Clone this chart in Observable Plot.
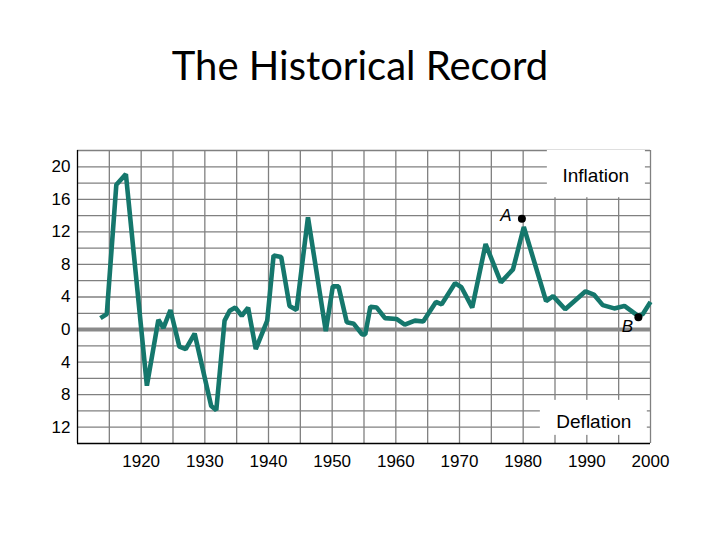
<!DOCTYPE html>
<html>
<head>
<meta charset="utf-8">
<script src="https://cdn.jsdelivr.net/npm/d3@7"></script>
<script src="https://cdn.jsdelivr.net/npm/@observablehq/plot@0.6"></script>
<style>
  html, body { margin: 0; padding: 0; background: #ffffff; }
  #wrap { width: 720px; height: 540px; overflow: hidden; background: #fff; }
  #title { height: 140px; box-sizing: border-box; padding-top: 41px; margin: 0;
           font-family: Lato, "Open Sans", sans-serif; font-size: 40px; line-height: 1.2;
           font-weight: normal; text-align: center; color: #000; }
  #chart svg { display: block; }
</style>
</head>
<body>
<div id="wrap">
  <div id="title">The Historical Record</div>
  <div id="chart"></div>
</div>
<script>
// Annual inflation rate (%)
const years = [1913.6, 1914.6, 1916.1, 1917.6, 1920.9, 1922.7, 1923.5, 1924.6, 1926.0, 1927.0,
  1928.4, 1931.0, 1931.8, 1933.1, 1933.9, 1934.8, 1935.8, 1936.8, 1938.0, 1939.8,
  1940.8, 1942.0, 1943.3, 1944.4, 1946.2, 1949.0, 1950.1, 1951.0, 1952.3, 1953.4,
  1954.7, 1955.2, 1956.0, 1957.0, 1958.3, 1960.1, 1961.4, 1963.0, 1964.3, 1966.3,
  1967.2, 1969.3, 1970.3, 1972.0, 1974.1, 1976.5, 1978.4, 1980.1, 1983.6, 1984.7,
  1986.6, 1989.8, 1991.1, 1992.5, 1994.3, 1995.9, 1998.0, 1998.8, 2000.0];
const rates = [1.4, 1.9, 17.8, 19.1, -6.9, 1.2, 0.2, 2.4, -2.1, -2.4,
  -0.5, -9.4, -9.9, 1.1, 2.3, 2.7, 1.7, 2.7, -2.4, 1.1,
  9.1, 8.9, 2.9, 2.4, 13.8, -0.2, 5.3, 5.3, 0.9, 0.7,
  -0.6, -0.6, 2.8, 2.7, 1.4, 1.3, 0.6, 1.1, 1.0, 3.4,
  3.1, 5.7, 5.2, 2.7, 10.5, 5.8, 7.4, 12.6, 3.5, 4.1,
  2.5, 4.7, 4.3, 3.0, 2.6, 2.9, 1.7, 1.9, 3.4];

// Marked points A and B
const pointLabels = ["A", "B"];
const pointYears = [1979.8, 1998.1];
const pointRates = [13.6, 1.5];
const pointDx = [-16, -11];
const pointDy = [-3, 9];

// Tick labels
const xTicks = [1920, 1930, 1940, 1950, 1960, 1970, 1980, 1990, 2000];
const yTicks = [20, 16, 12, 8, 4, 0, -4, -8, -12];
const gridYears = d3.range(1915, 2001, 5);
const gridRates = [-12, -10, -8, -6, -4, -2, 2, 4, 6, 8, 10, 12, 14, 16, 18, 20, 22];

// Region labels (text, box extent in data units, text anchor)
const noteLabels = ["Inflation", "Deflation"];
const noteX1 = [1983.8, 1982.7];
const noteX2 = [1999.2, 1999.5];
const noteY1 = [16.2, -13.0];
const noteY2 = [22, -8.7];
const noteTx = [1991.4, 1991.1];
const noteTy = [18.9, -11.4];

const series = years.map((y, i) => ({year: y, rate: rates[i]}));
const points = pointLabels.map((l, i) => ({label: l, year: pointYears[i], rate: pointRates[i]}));
const notes = noteLabels.map((l, i) => ({label: l, x1: noteX1[i], x2: noteX2[i], y1: noteY1[i], y2: noteY2[i], tx: noteTx[i], ty: noteTy[i]}));

const teal = "#15776c";
const gridColor = "#808080";
const font = "'Liberation Sans', Arial, sans-serif";

const chart = Plot.plot({
  width: 720,
  height: 400,
  marginLeft: 77,
  marginRight: 70,
  marginTop: 10,
  marginBottom: 97,
  x: {domain: [1910, 2000]},
  y: {domain: [-14, 22]},
  style: {fontFamily: font, fontSize: "17px", color: "#000", background: "#fff"},
  marks: [
    Plot.ruleX(gridYears, {y1: -14, y2: 22, stroke: gridColor, strokeWidth: 1.3}),
    Plot.ruleY(gridRates, {x1: 1910, x2: 2000, stroke: gridColor, strokeWidth: 1.3}),
    Plot.rect(notes, {x1: "x1", x2: "x2", y1: "y1", y2: "y2", fill: "#fff"}),
    Plot.text(notes, {x: "tx", y: "ty", text: "label", fontSize: 19, fill: "#000"}),
    Plot.ruleY([0], {x1: 1910, x2: 2000, stroke: "#8a8a8a", strokeWidth: 4}),
    Plot.ruleX([1910], {y1: -14, y2: 22, stroke: "#000", strokeWidth: 1.3}),
    Plot.ruleY([-14], {x1: 1910, x2: 2000, stroke: "#000", strokeWidth: 1.5}),
    Plot.line(series, {x: "year", y: "rate", stroke: teal, strokeWidth: 4.6, strokeLinejoin: "miter", strokeLinecap: "butt"}),
    Plot.dot(points, {x: "year", y: "rate", r: 4, fill: "#000", stroke: "none"}),
    ...points.map((p, i) => Plot.text([p], {x: "year", y: "rate", text: "label", dx: pointDx[i], dy: pointDy[i],
      fontSize: 17, fontStyle: "italic", fill: "#000"})),
    Plot.axisY({ticks: yTicks, tickFormat: d => String(Math.abs(d)), tickSize: 0, tickPadding: 7, label: null,
      fontSize: 17, fontFamily: font}),
    Plot.axisX({ticks: xTicks, tickFormat: d => String(d), tickSize: 0, tickPadding: 11, label: null,
      fontSize: 17, fontFamily: font})
  ]
});
document.getElementById("chart").appendChild(chart);
</script>
</body>
</html>
